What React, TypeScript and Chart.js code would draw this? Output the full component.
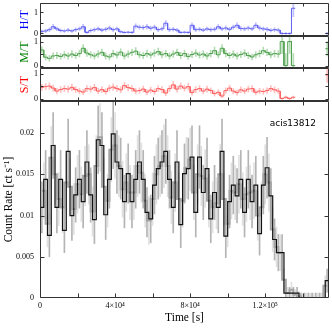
import React, { useEffect, useRef } from "react";
import { Chart, registerables } from "chart.js";
Chart.register(...registerables);

// ---------------- data ----------------
const OBS_ID = "acis13812";
const BIN_WIDTH = 2000; // s
const T_MIN = 0;
const T_MAX = 154000;
const GRAY_START = 1000; // second (gray) light curve, shifted binning

const xTickValues = [0, 20000, 40000, 60000, 80000, 100000, 120000, 140000];
const xTickLabels = ["0", "", "4×10⁴", "", "8×10⁴", "", "1.2×10⁵", ""];
const yTickValues = [0, 0.005, 0.01, 0.015, 0.02];
const yTickLabels = ["0", "0.005", "0.01", "0.015", "0.02"];
const ratioTickValues = [0, 0.5, 1];
const ratioTickLabels = ["0", "", "1"];

const rateBlack = [
  0.0110, 0.0144, 0.0076, 0.0185, 0.0110, 0.0144, 0.0082, 0.0178, 0.0100, 0.0125,
  0.0144, 0.0117, 0.0165, 0.0125, 0.0095, 0.0192, 0.0185, 0.0101, 0.0144, 0.0199,
  0.0165, 0.0157, 0.0117, 0.0151, 0.0117, 0.0144, 0.0165, 0.0144, 0.0104, 0.0096,
  0.0137, 0.0157, 0.0165, 0.0178, 0.0144, 0.0110, 0.0165, 0.0089, 0.0151, 0.0157,
  0.0171, 0.0104, 0.0171, 0.0128, 0.0157, 0.0096, 0.0128, 0.0110, 0.0178, 0.0075,
  0.0117, 0.0137, 0.0124, 0.0144, 0.0104, 0.0144, 0.0117, 0.0137, 0.0078, 0.0137,
  0.0158, 0.0124, 0.0071, 0.0055, 0.0055, 0.0006, 0.0006, 0.0006, 0.0006, 0,
  0, 0, 0, 0, 0, 0, 0.0021,
];
const rateBlackErr = [
  0.0031, 0.0035, 0.0026, 0.0040, 0.0031, 0.0035, 0.0027, 0.0039, 0.0030, 0.0033,
  0.0035, 0.0032, 0.0038, 0.0033, 0.0029, 0.0041, 0.0040, 0.0030, 0.0035, 0.0042,
  0.0038, 0.0037, 0.0032, 0.0036, 0.0032, 0.0035, 0.0038, 0.0035, 0.0030, 0.0029,
  0.0035, 0.0037, 0.0038, 0.0039, 0.0035, 0.0031, 0.0038, 0.0028, 0.0036, 0.0037,
  0.0038, 0.0030, 0.0038, 0.0033, 0.0037, 0.0029, 0.0033, 0.0031, 0.0039, 0.0026,
  0.0032, 0.0035, 0.0033, 0.0035, 0.0030, 0.0035, 0.0032, 0.0035, 0.0026, 0.0035,
  0.0037, 0.0033, 0.0025, 0.0022, 0.0022, 0.0007, 0.0007, 0.0007, 0.0007, 0.0006,
  0.0006, 0.0006, 0.0006, 0.0006, 0.0006, 0.0006, 0.0014,
];
const rateGray = [
  0.0130, 0.0090, 0.0170, 0.0150, 0.0120, 0.0110, 0.0140, 0.0135, 0.0108, 0.0138,
  0.0126, 0.0148, 0.0150, 0.0105, 0.0160, 0.0195, 0.0135, 0.0118, 0.0180, 0.0185,
  0.0160, 0.0132, 0.0140, 0.0128, 0.0128, 0.0160, 0.0152, 0.0118, 0.0094, 0.0120,
  0.0150, 0.0160, 0.0172, 0.0160, 0.0122, 0.0140, 0.0120, 0.0118, 0.0158, 0.0168,
  0.0128, 0.0150, 0.0148, 0.0145, 0.0118, 0.0110, 0.0115, 0.0150, 0.0120, 0.0090,
  0.0130, 0.0128, 0.0138, 0.0120, 0.0126, 0.0128, 0.0130, 0.0100, 0.0110, 0.0150,
  0.0140, 0.0083, 0.0062, 0.0055, 0.0022, 0.0006, 0.0010, 0.0004, 0.0002, 0,
  0, 0, 0, 0, 0, 0.0015,
];
const rateGrayErr = [
  0.0034, 0.0028, 0.0038, 0.0036, 0.0032, 0.0031, 0.0035, 0.0034, 0.0031, 0.0035,
  0.0033, 0.0036, 0.0036, 0.0030, 0.0037, 0.0041, 0.0034, 0.0032, 0.0039, 0.0040,
  0.0037, 0.0034, 0.0035, 0.0033, 0.0033, 0.0037, 0.0036, 0.0032, 0.0029, 0.0032,
  0.0036, 0.0037, 0.0038, 0.0037, 0.0032, 0.0035, 0.0032, 0.0032, 0.0037, 0.0038,
  0.0033, 0.0036, 0.0036, 0.0035, 0.0032, 0.0031, 0.0031, 0.0036, 0.0032, 0.0028,
  0.0034, 0.0033, 0.0035, 0.0032, 0.0033, 0.0033, 0.0034, 0.0030, 0.0031, 0.0036,
  0.0035, 0.0027, 0.0024, 0.0022, 0.0014, 0.0007, 0.0009, 0.0006, 0.0006, 0.0006,
  0.0006, 0.0006, 0.0006, 0.0006, 0.0006, 0.0012,
];

const N = null;
const hardRatio = [
  0.10, 0.12, 0.18, 0.32, 0.22, 0.14, 0.12, 0.16, 0.12, 0.18,
  0.22, 0.32, 0.05, 0.14, 0.18, 0.22, 0.16, 0.20, 0.26, 0.18,
  0.22, 0.08, 0.05, 0.06, 0.05, 0.35, 0.30, 0.28, 0.32, 0.25,
  0.30, 0.18, 0.22, 0.49, 0.18, 0.20, 0.16, 0.05, 0.06, 0.05,
  0.39, 0.18, 0.20, 0.16, 0.22, 0.18, 0.20, 0.32, 0.22, 0.26,
  0.20, 0.30, 0.39, 0.24, 0.22, 0.26, 0.22, 0.39, 0.26, 0.22,
  0.20, 0.15, 0.18, 0.16, 0.00, 0.00, 0.00, 1.20, N, N,
  N, N, N, N, N, N, 0.00,
];
const hardErr = [
  0.07, 0.08, 0.09, 0.11, 0.09, 0.08, 0.07, 0.08, 0.07, 0.09,
  0.09, 0.11, 0.05, 0.08, 0.09, 0.09, 0.08, 0.09, 0.10, 0.09,
  0.09, 0.06, 0.05, 0.05, 0.05, 0.11, 0.10, 0.10, 0.11, 0.10,
  0.10, 0.09, 0.09, 0.13, 0.09, 0.09, 0.08, 0.05, 0.05, 0.05,
  0.12, 0.09, 0.09, 0.08, 0.09, 0.09, 0.09, 0.11, 0.09, 0.10,
  0.09, 0.10, 0.12, 0.10, 0.09, 0.10, 0.09, 0.12, 0.10, 0.09,
  0.09, 0.08, 0.09, 0.09, 0.05, 0.05, 0.05, 0.40, N, N,
  N, N, N, N, N, N, 0.05,
];
const medRatio = [
  0.65, 0.35, 0.30, 0.40, 0.42, 0.38, 0.45, 0.40, 0.48, 0.42,
  0.50, 0.72, 0.52, 0.45, 0.40, 0.48, 0.55, 0.40, 0.36, 0.50,
  0.44, 0.56, 0.40, 0.48, 0.55, 0.60, 0.45, 0.42, 0.50, 0.44,
  0.52, 0.58, 0.45, 0.50, 0.40, 0.48, 0.55, 0.42, 0.50, 0.38,
  0.46, 0.52, 0.44, 0.48, 0.40, 0.50, 0.62, 0.45, 0.72, 0.50,
  0.42, 0.48, 0.40, 0.46, 0.52, 0.42, 0.36, 0.45, 0.50, 0.62,
  0.55, 0.45, 0.50, 0.48, 1.00, 0.00, 1.00, 0.00, N, N,
  N, N, N, N, N, N, 0.70,
];
const medErr = [
  0.13, 0.12, 0.12, 0.13, 0.13, 0.12, 0.13, 0.13, 0.14, 0.13,
  0.14, 0.15, 0.14, 0.13, 0.13, 0.14, 0.14, 0.13, 0.12, 0.14,
  0.13, 0.14, 0.13, 0.14, 0.14, 0.15, 0.13, 0.13, 0.14, 0.13,
  0.14, 0.15, 0.13, 0.14, 0.13, 0.14, 0.14, 0.13, 0.14, 0.12,
  0.13, 0.14, 0.13, 0.14, 0.13, 0.14, 0.15, 0.13, 0.15, 0.14,
  0.13, 0.14, 0.13, 0.13, 0.14, 0.13, 0.12, 0.13, 0.14, 0.15,
  0.14, 0.13, 0.14, 0.14, 0.50, 0.50, 0.50, 0.50, N, N,
  N, N, N, N, N, N, 0.30,
];
const softRatio = [
  0.45, 0.48, 0.50, 0.42, 0.30, 0.36, 0.40, 0.38, 0.45, 0.36,
  0.30, 0.26, 0.40, 0.38, 0.44, 0.30, 0.36, 0.28, 0.42, 0.46,
  0.40, 0.35, 0.52, 0.44, 0.40, 0.30, 0.32, 0.38, 0.26, 0.34,
  0.28, 0.40, 0.36, 0.22, 0.40, 0.55, 0.38, 0.50, 0.42, 0.48,
  0.24, 0.36, 0.40, 0.30, 0.38, 0.32, 0.20, 0.25, 0.10, 0.32,
  0.42, 0.30, 0.24, 0.35, 0.30, 0.38, 0.40, 0.25, 0.30, 0.28,
  0.32, 0.40, 0.35, 0.30, 0.00, 0.05, 0.00, 0.05, N, N,
  N, N, N, N, N, N, 0.95,
];
const softErr = [
  0.12, 0.12, 0.13, 0.12, 0.11, 0.12, 0.12, 0.12, 0.13, 0.12,
  0.11, 0.10, 0.12, 0.12, 0.13, 0.11, 0.12, 0.11, 0.12, 0.13,
  0.12, 0.12, 0.13, 0.13, 0.12, 0.11, 0.11, 0.12, 0.10, 0.12,
  0.11, 0.12, 0.12, 0.10, 0.12, 0.14, 0.12, 0.13, 0.12, 0.13,
  0.10, 0.12, 0.12, 0.11, 0.12, 0.11, 0.10, 0.10, 0.08, 0.11,
  0.12, 0.11, 0.10, 0.12, 0.11, 0.12, 0.12, 0.10, 0.11, 0.11,
  0.11, 0.12, 0.12, 0.11, 0.04, 0.05, 0.04, 0.05, N, N,
  N, N, N, N, N, N, 0.30,
];

// ---------------- helpers ----------------
const SERIF = "'Liberation Serif', 'Times New Roman', serif";
const W = 332;
const PLOT_LEFT = 40;
const PLOT_RIGHT = 329;

type Pt = { x: number; y: number | null };

function stepPoints(vals: (number | null)[], start: number): Pt[] {
  const pts: Pt[] = [];
  vals.forEach((v, i) => {
    const x0 = start + i * BIN_WIDTH;
    const x1 = x0 + BIN_WIDTH;
    if (v === null) pts.push({ x: x0 + BIN_WIDTH / 2, y: null });
    else pts.push({ x: x0, y: v }, { x: x1, y: v });
  });
  return pts;
}

function errBars(vals: (number | null)[], errs: (number | null)[], start: number) {
  const out: { x: number; y: [number, number] }[] = [];
  vals.forEach((v, i) => {
    const e = errs[i];
    if (v === null || e === null) return;
    out.push({ x: start + i * BIN_WIDTH + BIN_WIDTH / 2, y: [v - e, v + e] });
  });
  return out;
}

const framePlugin = {
  id: "frame",
  afterDatasetsDraw(chart: any, _a: any, opts: any) {
    const { ctx, chartArea: a, scales } = chart;
    const L = opts.tickLen ?? 4;
    ctx.save();
    ctx.strokeStyle = "#333";
    ctx.lineWidth = 1;
    ctx.beginPath();
    const l = a.left + 0.5, r = a.right - 0.5, t = a.top + 0.5, b = a.bottom - 0.5;
    ctx.rect(l, t, r - l, b - t);
    for (const tk of scales.x.ticks) {
      const px = Math.round(scales.x.getPixelForValue(tk.value)) + 0.5;
      if (px < a.left || px > a.right) continue;
      ctx.moveTo(px, b); ctx.lineTo(px, b - L);
      ctx.moveTo(px, t); ctx.lineTo(px, t + L);
    }
    for (const tk of scales.y.ticks) {
      const py = Math.round(scales.y.getPixelForValue(tk.value)) + 0.5;
      if (py < a.top || py > a.bottom) continue;
      ctx.moveTo(l, py); ctx.lineTo(l + L, py);
      ctx.moveTo(r, py); ctx.lineTo(r - L, py);
    }
    ctx.stroke();
    ctx.restore();
  },
};

const obsLabelPlugin = {
  id: "obsLabel",
  afterDatasetsDraw(chart: any) {
    const { ctx, chartArea: a } = chart;
    ctx.save();
    ctx.font = "9px 'DejaVu Sans', sans-serif";
    ctx.fillStyle = "#000";
    ctx.textAlign = "right";
    ctx.textBaseline = "middle";
    ctx.fillText(OBS_ID, a.right - 13, a.top + 23);
    ctx.restore();
  },
};

function xScale(showLabels: boolean) {
  return {
    type: "linear",
    min: T_MIN,
    max: T_MAX,
    offset: false,
    grid: { display: false, drawTicks: false },
    border: { display: false },
    ticks: {
      display: showLabels,
      autoSkip: false,
      maxRotation: 0,
      padding: 3,
      color: "#000",
      font: { family: SERIF, size: 8 },
      callback: (_v: any, i: number) => xTickLabels[i],
    },
    title: showLabels
      ? { display: true, text: "Time [s]", color: "#000", font: { family: SERIF, size: 11.5 }, padding: { top: 0, bottom: 7 } }
      : { display: false },
    afterBuildTicks: (s: any) => {
      s.ticks = xTickValues.map((v) => ({ value: v }));
    },
    afterFit: (s: any) => {
      s.height = showLabels ? 34 : 0;
      s.paddingLeft = 0;
      s.paddingRight = 0;
    },
  };
}

function ratioConfig(label: string, color: string, lineColor: string, errColor: string,
  vals: (number | null)[], errs: (number | null)[], yMin: number, yMax: number, padTop: number) {
  return {
    type: "line",
    data: {
      datasets: [
        { type: "line", data: stepPoints(vals, 0), borderColor: lineColor, borderWidth: 1, pointRadius: 0, spanGaps: false, order: 0 },
        { type: "bar", data: errBars(vals, errs, 0), backgroundColor: errColor, barThickness: 1, grouped: false, order: 1 },
      ],
    },
    options: {
      animation: false,
      responsive: false,
      devicePixelRatio: 1,
      events: [],
      layout: { padding: { top: padTop, bottom: 6, left: 0, right: W - PLOT_RIGHT } },
      plugins: { legend: { display: false }, tooltip: { enabled: false }, frame: { tickLen: 3 } },
      scales: {
        x: xScale(false),
        y: {
          type: "linear",
          min: yMin,
          max: yMax,
          grid: { display: false, drawTicks: false },
          border: { display: false },
          ticks: {
            autoSkip: false,
            padding: 2,
            color: "#000",
            font: { family: SERIF, size: 8 },
            callback: (_v: any, i: number) => ratioTickLabels[i],
          },
          title: { display: true, text: label, color, font: { family: SERIF, size: 12 }, padding: { top: 18, bottom: 0 } },
          afterBuildTicks: (s: any) => {
            s.ticks = ratioTickValues.map((v) => ({ value: v }));
          },
          afterFit: (s: any) => {
            s.width = PLOT_LEFT;
            s.paddingTop = 0;
            s.paddingBottom = 0;
          },
        },
      },
    },
    plugins: [framePlugin],
  };
}

function mainConfig() {
  return {
    type: "line",
    data: {
      datasets: [
        { type: "line", data: stepPoints(rateBlack, 0), borderColor: "#111", borderWidth: 1.2, pointRadius: 0, order: 0 },
        { type: "line", data: stepPoints(rateGray, GRAY_START), borderColor: "#a4a4a4", borderWidth: 2, pointRadius: 0, order: 1 },
        { type: "bar", data: errBars(rateBlack, rateBlackErr, 0), backgroundColor: "#b4b4b4", barThickness: 1, grouped: false, order: 2 },
        { type: "bar", data: errBars(rateGray, rateGrayErr, GRAY_START), backgroundColor: "#e0e0e0", barThickness: 1, grouped: false, order: 3 },
      ],
    },
    options: {
      animation: false,
      responsive: false,
      devicePixelRatio: 1,
      events: [],
      layout: { padding: { top: 6, bottom: 0, left: 0, right: W - PLOT_RIGHT } },
      plugins: { legend: { display: false }, tooltip: { enabled: false }, frame: { tickLen: 4 } },
      scales: {
        x: xScale(true),
        y: {
          type: "linear",
          min: 0,
          max: 0.0239,
          grid: { display: false, drawTicks: false },
          border: { display: false },
          ticks: {
            autoSkip: false,
            padding: 6,
            color: "#000",
            font: { family: SERIF, size: 8 },
            callback: (_v: any, i: number) => yTickLabels[i],
          },
          title: { display: true, text: "Count Rate [ct s⁻¹]", color: "#000", font: { family: SERIF, size: 11.5 }, padding: { top: 2, bottom: 0 } },
          afterBuildTicks: (s: any) => {
            s.ticks = yTickValues.map((v) => ({ value: v }));
          },
          afterFit: (s: any) => {
            s.width = PLOT_LEFT;
            s.paddingTop = 0;
            s.paddingBottom = 0;
          },
        },
      },
    },
    plugins: [framePlugin, obsLabelPlugin],
  };
}

function ChartCanvas({ top, height, make }: { top: number; height: number; make: () => any }) {
  const ref = useRef<HTMLCanvasElement>(null);
  useEffect(() => {
    const chart = new Chart(ref.current as HTMLCanvasElement, make());
    return () => chart.destroy();
  }, []);
  return (
    <canvas
      ref={ref}
      width={W}
      height={height}
      style={{ position: "absolute", left: 0, top, width: W, height }}
    />
  );
}

export default function App() {
  return (
    <div style={{ position: "absolute", left: 0, top: 0, width: W, height: 332, background: "#fff", overflow: "hidden" }}>
      <ChartCanvas top={0} height={42}
        make={() => ratioConfig("H/T", "#0000ff", "#6060f0", "#c0c0ff", hardRatio, hardErr, -0.12, 1.45, 3)} />
      <ChartCanvas top={30} height={44}
        make={() => ratioConfig("M/T", "#008000", "#50a050", "#b4dcb4", medRatio, medErr, -0.1, 1.23, 6)} />
      <ChartCanvas top={62} height={45}
        make={() => ratioConfig("S/T", "#ff0000", "#ff6060", "#ffc0c0", softRatio, softErr, -0.1, 1.23, 6)} />
      <ChartCanvas top={95} height={237} make={mainConfig} />
    </div>
  );
}
